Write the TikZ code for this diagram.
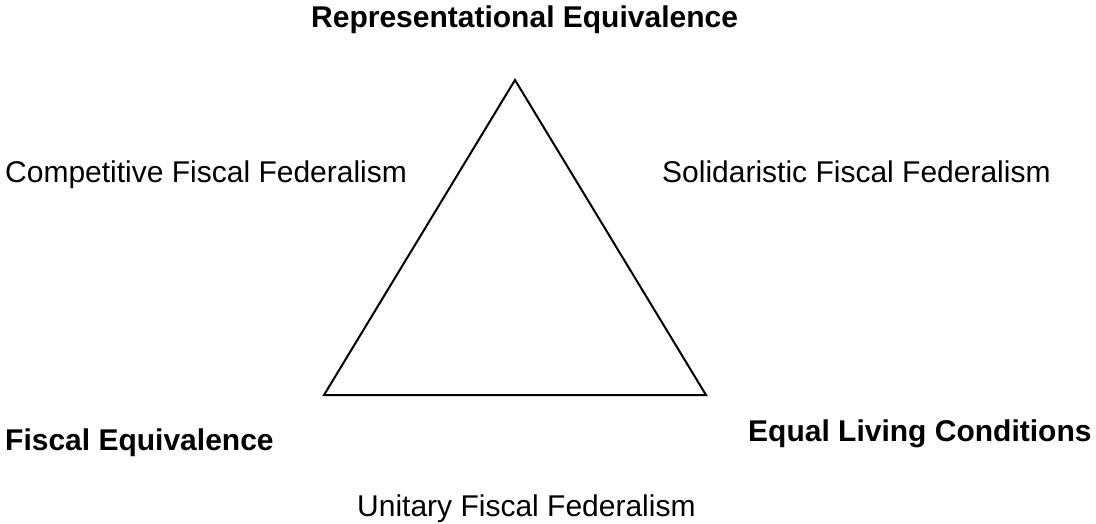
\documentclass[tikz,border=0pt]{standalone}
\usepackage{fontspec}
\setmainfont{Liberation Sans}
\begin{document}
\begin{tikzpicture}[x=1pt,y=-1pt,
  lbl/.style={inner sep=0pt,anchor=base west,font=\fontsize{30}{34}\selectfont},
  blbl/.style={lbl,font=\fontsize{30}{34}\selectfont\bfseries},
  tri/.style={draw=black,line width=2pt,line join=miter}]
\useasboundingbox (0,0) rectangle (1096,524);
\coordinate (A) at (515,80);
\coordinate (B) at (324,395);
\coordinate (C) at (706,395);
\draw[tri] (A) -- (B) -- (C) -- cycle;
\node[blbl] (re) at (311,28) {Representational Equivalence};
\node[lbl] (cf) at (5,183) {Competitive Fiscal Federalism};
\node[lbl] (sf) at (662,183) {Solidaristic Fiscal Federalism};
\node[blbl] (fe) at (5,450) {Fiscal Equivalence};
\node[blbl] (el) at (748,441) {Equal Living Conditions};
\node[lbl] (uf) at (357,516) {Unitary Fiscal Federalism};
\end{tikzpicture}
\end{document}
